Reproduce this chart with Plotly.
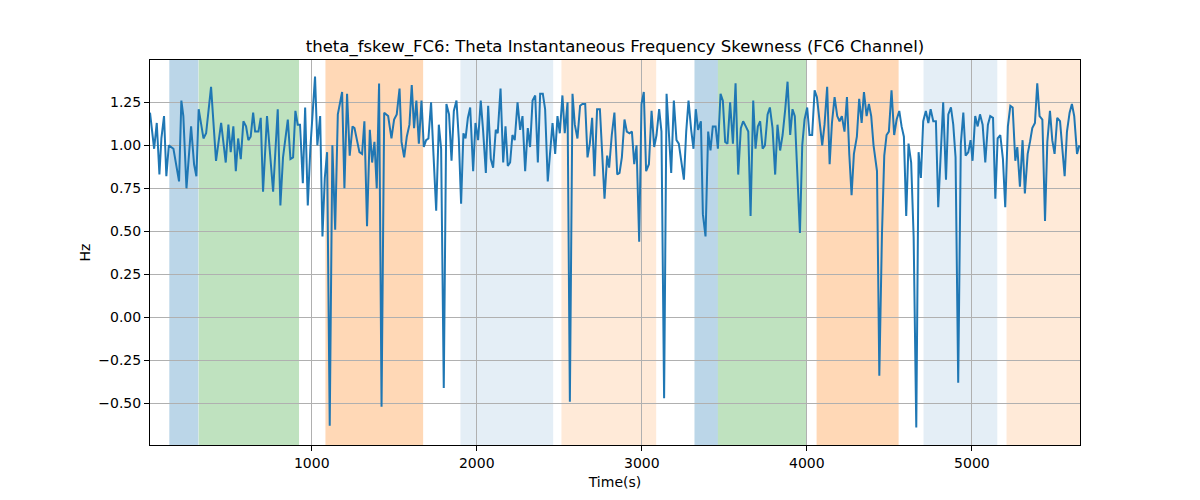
import plotly.graph_objects as go

# ---------------- data ----------------
time_s = [
    20, 45, 61, 77, 89, 105, 119, 134, 162, 196, 210, 222, 241, 269, 287, 301, 315, 344, 360, 390,
    420, 451, 479, 495, 509, 525, 540, 554, 570, 586, 602, 616, 630, 645, 657, 677, 691, 705, 729, 766,
    794, 810, 826, 855, 871, 887, 901, 915, 929, 946, 960, 976, 992, 1020, 1034, 1051, 1065, 1079, 1093, 1109,
    1125, 1142, 1158, 1184, 1198, 1214, 1230, 1247, 1259, 1275, 1289, 1305, 1319, 1335, 1352, 1366, 1380, 1394, 1408, 1423,
    1439, 1463, 1483, 1499, 1515, 1532, 1544, 1560, 1576, 1592, 1606, 1620, 1634, 1649, 1665, 1679, 1693, 1707, 1723, 1738,
    1754, 1770, 1784, 1800, 1816, 1832, 1847, 1861, 1877, 1891, 1905, 1919, 1932, 1946, 1960, 1978, 1992, 2008, 2024, 2038,
    2055, 2069, 2085, 2099, 2115, 2127, 2144, 2160, 2174, 2188, 2202, 2216, 2230, 2247, 2263, 2277, 2293, 2309, 2323, 2338,
    2354, 2370, 2384, 2400, 2414, 2430, 2445, 2459, 2475, 2489, 2503, 2519, 2533, 2550, 2564, 2580, 2594, 2610, 2626, 2640,
    2657, 2671, 2685, 2699, 2713, 2729, 2746, 2760, 2774, 2790, 2802, 2818, 2834, 2851, 2865, 2879, 2895, 2909, 2925, 2940,
    2954, 2968, 2984, 2998, 3012, 3026, 3043, 3059, 3075, 3089, 3105, 3119, 3135, 3150, 3164, 3178, 3194, 3210, 3224, 3241,
    3255, 3269, 3283, 3299, 3313, 3327, 3341, 3358, 3370, 3386, 3402, 3416, 3430, 3447, 3461, 3477, 3491, 3505, 3519, 3535,
    3552, 3568, 3584, 3600, 3614, 3630, 3645, 3659, 3675, 3689, 3703, 3717, 3732, 3746, 3762, 3776, 3792, 3808, 3822, 3838,
    3853, 3869, 3883, 3899, 3913, 3927, 3944, 3958, 3972, 3986, 4002, 4016, 4032, 4047, 4061, 4077, 4093, 4107, 4123, 4138,
    4152, 4168, 4184, 4198, 4212, 4228, 4243, 4257, 4271, 4285, 4303, 4317, 4332, 4346, 4362, 4376, 4390, 4404, 4425, 4439,
    4455, 4469, 4483, 4497, 4513, 4529, 4544, 4560, 4574, 4588, 4602, 4616, 4632, 4647, 4663, 4677, 4691, 4705, 4721, 4736,
    4750, 4766, 4782, 4796, 4812, 4826, 4843, 4857, 4873, 4887, 4901, 4917, 4933, 4948, 4962, 4978, 4992, 5004, 5020, 5035,
    5049, 5065, 5081, 5097, 5111, 5128, 5142, 5156, 5172, 5188, 5202, 5218, 5233, 5247, 5263, 5275, 5291, 5307, 5321, 5338,
    5352, 5366, 5382, 5396, 5410, 5427, 5443, 5457, 5473, 5487, 5501, 5517, 5534, 5548, 5562, 5576, 5592, 5606, 5620, 5637,
    5651,
]

fskew_hz = [
    1.19, 0.98, 1.13, 0.83, 1.04, 1.17, 0.82, 1.00, 0.98, 0.79, 1.26, 1.17, 0.75, 1.11, 0.89, 0.82, 1.21, 1.04, 1.07, 1.34,
    0.91, 1.13, 0.90, 1.12, 0.96, 1.11, 0.85, 1.04, 0.92, 1.14, 1.11, 1.03, 1.05, 1.19, 1.08, 1.08, 1.16, 0.73, 1.17, 0.73,
    1.21, 0.65, 0.93, 1.15, 0.92, 0.93, 1.20, 1.12, 1.12, 0.78, 1.22, 0.65, 0.99, 1.40, 1.00, 1.17, 0.47, 0.81, 0.96, -0.63,
    1.00, 0.51, 1.18, 1.31, 0.75, 1.30, 0.94, 1.11, 1.10, 1.03, 0.96, 0.95, 1.14, 0.53, 1.09, 0.90, 1.02, 0.75, 1.36, -0.52,
    1.19, 1.17, 1.04, 1.15, 1.18, 1.33, 1.02, 0.93, 1.05, 1.12, 1.35, 1.10, 1.26, 1.01, 1.26, 0.99, 1.03, 1.04, 1.25, 0.94,
    0.62, 1.12, 0.98, -0.41, 1.24, 1.18, 0.91, 1.20, 1.26, 1.04, 0.66, 1.07, 1.04, 1.16, 1.22, 0.85, 1.13, 1.03, 1.26, 1.09,
    0.84, 1.23, 0.92, 0.87, 1.09, 1.07, 1.33, 0.90, 1.11, 0.88, 0.90, 1.06, 1.03, 1.25, 1.09, 1.17, 0.85, 1.10, 0.99, 1.26,
    1.29, 0.90, 1.30, 1.30, 1.21, 0.79, 0.96, 1.13, 0.95, 1.17, 1.07, 1.29, 1.07, 1.25, -0.49, 1.30, 1.12, 1.04, 1.23, 1.24,
    1.24, 0.93, 1.01, 1.16, 0.82, 1.21, 1.21, 0.91, 0.69, 0.94, 0.87, 1.06, 1.19, 0.83, 0.84, 0.93, 1.15, 1.08, 1.07, 1.08,
    0.89, 1.00, 0.44, 1.24, 1.31, 0.85, 0.89, 1.20, 0.99, 1.06, 1.21, 1.08, -0.47, 1.30, 1.06, 0.84, 1.26, 1.03, 1.01, 0.89,
    0.80, 1.08, 1.26, 1.09, 0.98, 1.21, 1.09, 1.14, 0.60, 0.47, 1.08, 0.97, 1.11, 1.11, 0.98, 1.30, 1.26, 1.02, 1.01, 1.25,
    1.01, 1.36, 0.83, 1.10, 1.14, 1.11, 1.08, 0.59, 1.26, 0.98, 1.11, 1.14, 0.98, 1.00, 1.18, 1.22, 1.10, 0.83, 1.12, 0.97,
    1.06, 1.21, 1.37, 1.06, 1.21, 1.17, 0.75, 0.49, 1.00, 1.15, 1.22, 1.06, 1.06, 1.32, 1.28, 1.15, 1.00, 1.12, 1.34, 0.89,
    1.13, 1.28, 1.17, 1.14, 1.17, 1.08, 1.28, 0.95, 0.71, 0.95, 1.05, 1.27, 1.13, 1.31, 1.17, 1.24, 1.17, 1.00, 0.85, -0.34,
    0.48, 0.94, 1.06, 1.08, 1.32, 1.06, 1.15, 1.20, 1.11, 1.05, 0.59, 1.01, 0.90, 0.47, -0.64, 0.96, 0.81, 1.14, 1.20, 1.13,
    1.21, 1.14, 1.14, 0.64, 1.02, 1.25, 0.80, 1.18, 1.22, 1.12, 0.93, -0.38, 1.01, 1.19, 0.94, 0.96, 1.03, 0.91, 1.17, 1.11,
    1.18, 1.12, 0.90, 1.12, 1.17, 1.16, 0.69, 1.04, 1.06, 0.92, 0.64, 1.11, 1.23, 1.22, 0.91, 0.99, 0.76, 1.03, 0.72, 0.95,
    1.02, 1.10, 1.13, 1.36, 1.17, 1.15, 0.56, 1.02, 1.20, 1.03, 0.95, 1.16, 1.14, 0.97, 0.82, 1.08, 1.19, 1.24, 1.17, 0.95,
    1.00,
]

# shaded segments: start, end, colour, opacity
span_start = [137, 315, 1083, 1901, 2513, 3319, 3461, 4059, 4707, 5210]
span_end = [313, 923, 1675, 2463, 3087, 3461, 4000, 4556, 5154, 5700]
span_color = ["#1f77b4", "#2ca02c", "#ff7f0e", "#1f77b4", "#ff7f0e",
              "#1f77b4", "#2ca02c", "#ff7f0e", "#1f77b4", "#ff7f0e"]
span_alpha = [0.3, 0.3, 0.3, 0.12, 0.16, 0.3, 0.3, 0.3, 0.12, 0.16]

x_ticks = [1000, 2000, 3000, 4000, 5000]
y_ticks = [-0.5, -0.25, 0.0, 0.25, 0.5, 0.75, 1.0, 1.25]
y_tick_text = ["\u22120.50", "\u22120.25", "0.00", "0.25", "0.50", "0.75", "1.00", "1.25"]

# ---------------- figure ----------------
fig = go.Figure()
fig.add_trace(go.Scatter(
    x=time_s, y=fskew_hz, mode="lines",
    line=dict(color="#1f77b4", width=2),
    showlegend=False,
))

for s, e, c, a in zip(span_start, span_end, span_color, span_alpha):
    fig.add_shape(type="rect", xref="x", yref="paper", x0=s, x1=e, y0=0, y1=1,
                  fillcolor=c, opacity=a, line=dict(width=0), layer="below")

font_family = "DejaVu Sans"
fig.update_layout(
    width=1200, height=500,
    margin=dict(l=142, r=128, t=52, b=63),
    paper_bgcolor="white", plot_bgcolor="white",
    font=dict(family=font_family, size=14, color="black"),
    title=dict(text="theta_fskew_FC6: Theta Instantaneous Frequency Skewness (FC6 Channel)",
               x=0.5, xref="paper", xanchor="center",
               y=1 - 38 / 500, yref="container", yanchor="middle",
               font=dict(family=font_family, size=16.5, color="black")),
)
fig.update_xaxes(
    range=[20, 5655], tickvals=x_ticks, ticktext=[str(v) for v in x_ticks],
    showgrid=True, gridcolor="#b0b0b0", gridwidth=1,
    showline=True, linecolor="black", linewidth=1, mirror=True,
    ticks="outside", ticklen=5, tickcolor="black", zeroline=False,
    tickfont=dict(size=14),
    title=dict(text="Time(s)", standoff=7, font=dict(size=14)),
)
fig.update_yaxes(
    range=[-0.742, 1.496], tickvals=y_ticks, ticktext=y_tick_text,
    showgrid=True, gridcolor="#b0b0b0", gridwidth=1,
    showline=True, linecolor="black", linewidth=1, mirror=True,
    ticks="outside", ticklen=5, tickcolor="black", zeroline=False,
    tickfont=dict(size=14),
    title=dict(text="Hz", standoff=4, font=dict(size=14)),
)

fig.write_html("out.html")
